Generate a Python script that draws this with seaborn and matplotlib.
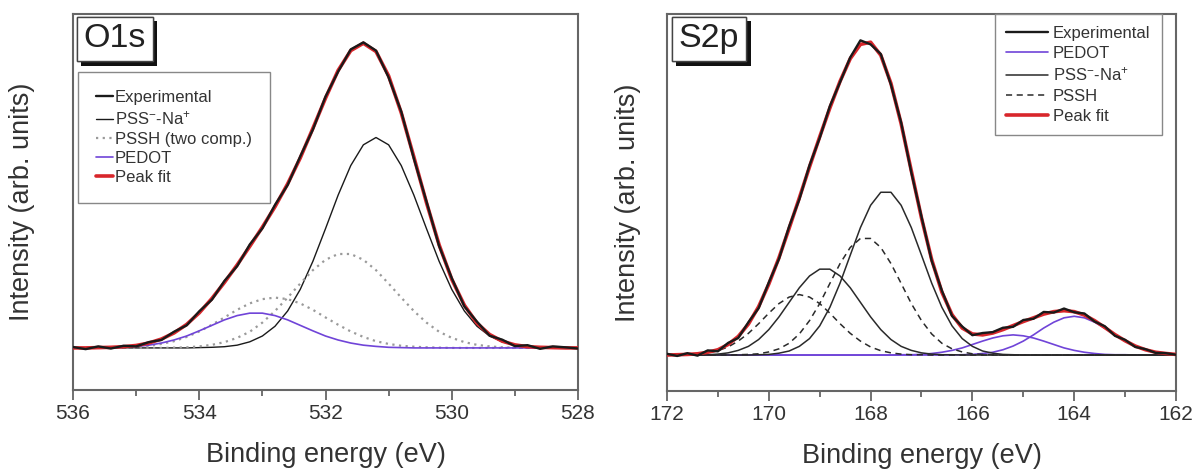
import matplotlib.pyplot as plt
import matplotlib.patheffects as pe
import seaborn as sns

# --- O1s region (binding energy in eV, intensity in arb. units, baseline = 0) ---
o1s_be = [536.0, 535.8, 535.6, 535.4, 535.2, 535.0, 534.8, 534.6, 534.4, 534.2,
          534.0, 533.8, 533.6, 533.4, 533.2, 533.0, 532.8, 532.6, 532.4, 532.2,
          532.0, 531.8, 531.6, 531.4, 531.2, 531.0, 530.8, 530.6, 530.4, 530.2,
          530.0, 529.8, 529.6, 529.4, 529.2, 529.0, 528.8, 528.6, 528.4, 528.2,
          528.0]
o1s_exp = [0.3, -0.4, 0.5, -0.2, 0.7, 0.5, 1.9, 2.6, 5.3, 7.4,
           12.0, 15.8, 22.0, 26.8, 33.9, 39.2, 46.9, 53.4, 62.8, 71.6,
           82.4, 90.6, 97.9, 100.2, 97.5, 88.7, 77.5, 62.1, 48.0, 33.4,
           22.9, 13.6, 8.6, 4.0, 2.7, 0.6, 0.9, -0.3, 0.5, 0.2,
           -0.2]
o1s_pss = [0, 0, 0, 0, 0, 0, 0, 0, 0, 0,
           0.1, 0.2, 0.4, 0.9, 2.0, 3.9, 7.1, 12.1, 19.2, 28.4,
           39.1, 50.1, 59.8, 66.6, 69.0, 66.6, 59.8, 50.1, 39.1, 28.4,
           19.2, 12.1, 7.1, 3.9, 2.0, 0.9, 0.4, 0.2, 0.1, 0,
           0]
o1s_pssh_1 = [0, 0, 0, 0, 0, 0, 0, 0, 0.1, 0.2,
              0.5, 1.0, 1.9, 3.3, 5.3, 8.3, 12.1, 16.5, 21.1, 25.5,
              28.9, 30.8, 30.8, 28.9, 25.5, 21.1, 16.5, 12.1, 8.3, 5.3,
              3.3, 1.9, 1.0, 0.5, 0.2, 0.1, 0, 0, 0, 0,
              0]
o1s_pssh_2 = [0, 0, 0.0, 0.1, 0.2, 0.4, 0.7, 1.3, 2.2, 3.6,
              5.4, 7.6, 10.0, 12.5, 14.6, 16.0, 16.5, 16.0, 14.6, 12.5,
              10.0, 7.6, 5.4, 3.6, 2.2, 1.3, 0.7, 0.4, 0.2, 0.1,
              0.0, 0, 0, 0, 0, 0, 0, 0, 0, 0,
              0]
o1s_pedot = [0, 0, 0.0, 0.1, 0.2, 0.5, 0.9, 1.6, 2.6, 3.9,
             5.6, 7.4, 9.2, 10.6, 11.4, 11.4, 10.6, 9.2, 7.4, 5.6,
             3.9, 2.6, 1.6, 0.9, 0.5, 0.2, 0.1, 0.0, 0, 0,
             0, 0, 0, 0, 0, 0, 0, 0, 0, 0,
             0]
o1s_fit = [0, 0, 0.1, 0.2, 0.4, 0.8, 1.6, 2.9, 4.9, 7.7,
           11.5, 16.2, 21.5, 27.2, 33.3, 39.6, 46.3, 53.8, 62.3, 72.0,
           81.9, 91.0, 97.5, 99.9, 97.2, 89.2, 77.1, 62.6, 47.6, 33.8,
           22.5, 14.0, 8.1, 4.4, 2.2, 1.0, 0.4, 0.2, 0.1, 0,
           0]

# --- S2p region ---
s2p_be = [172.0, 171.8, 171.6, 171.4, 171.2, 171.0, 170.8, 170.6, 170.4, 170.2,
          170.0, 169.8, 169.6, 169.4, 169.2, 169.0, 168.8, 168.6, 168.4, 168.2,
          168.0, 167.8, 167.6, 167.4, 167.2, 167.0, 166.8, 166.6, 166.4, 166.2,
          166.0, 165.8, 165.6, 165.4, 165.2, 165.0, 164.8, 164.6, 164.4, 164.2,
          164.0, 163.8, 163.6, 163.4, 163.2, 163.0, 162.8, 162.6, 162.4, 162.2,
          162.0]
s2p_exp = [0.4, -0.3, 0.6, -0.2, 1.5, 1.2, 3.9, 5.5, 10.6, 15.1,
           23.4, 31.0, 41.5, 50.2, 61.2, 70.0, 80.3, 88.0, 96.0, 101.5,
           100.2, 97.1, 87.2, 75.0, 58.9, 44.6, 30.4, 20.8, 12.6, 9.2,
           6.4, 7.1, 7.4, 8.8, 9.1, 11.3, 11.7, 13.9, 13.7, 15.0,
           13.8, 13.4, 10.8, 9.3, 6.2, 4.9, 2.6, 1.9, 0.7, 0.6,
           0.1]
s2p_pss_1 = [0, 0, 0, 0, 0, 0, 0, 0, 0.0, 0.1,
             0.2, 0.6, 1.3, 2.8, 5.3, 9.4, 15.4, 23.2, 32.2, 41.1,
             48.3, 52.5, 52.5, 48.3, 41.1, 32.2, 23.2, 15.4, 9.4, 5.3,
             2.8, 1.3, 0.6, 0.2, 0.1, 0.0, 0, 0, 0, 0,
             0, 0, 0, 0, 0, 0, 0, 0, 0, 0,
             0]
s2p_pss_2 = [0, 0, 0.0, 0.1, 0.1, 0.3, 0.7, 1.5, 2.8, 5.0,
             8.2, 12.3, 17.0, 21.7, 25.5, 27.7, 27.7, 25.5, 21.7, 17.0,
             12.3, 8.2, 5.0, 2.8, 1.5, 0.7, 0.3, 0.1, 0.1, 0.0,
             0, 0, 0, 0, 0, 0, 0, 0, 0, 0,
             0, 0, 0, 0, 0, 0, 0, 0, 0, 0,
             0]
s2p_pssh_1 = [0, 0, 0, 0, 0, 0, 0.0, 0.1, 0.2, 0.4,
              1.0, 2.0, 3.8, 6.8, 11.1, 16.6, 23.1, 29.5, 34.7, 37.6,
              37.6, 34.7, 29.5, 23.1, 16.6, 11.1, 6.8, 3.8, 2.0, 1.0,
              0.4, 0.2, 0.1, 0.0, 0, 0, 0, 0, 0, 0,
              0, 0, 0, 0, 0, 0, 0, 0, 0, 0,
              0]
s2p_pssh_2 = [0.0, 0.1, 0.1, 0.3, 0.7, 1.4, 2.6, 4.5, 7.0, 10.1,
              13.5, 16.6, 18.7, 19.5, 18.7, 16.6, 13.5, 10.1, 7.0, 4.5,
              2.6, 1.4, 0.7, 0.3, 0.1, 0.1, 0.0, 0, 0, 0,
              0, 0, 0, 0, 0, 0, 0, 0, 0, 0,
              0, 0, 0, 0, 0, 0, 0, 0, 0, 0,
              0]
s2p_pedot_1 = [0, 0, 0, 0, 0, 0, 0, 0, 0, 0,
               0, 0, 0, 0, 0, 0, 0, 0, 0, 0,
               0, 0, 0, 0, 0, 0, 0, 0.0, 0.0, 0.1,
               0.2, 0.5, 0.9, 1.7, 2.9, 4.5, 6.5, 8.7, 10.6, 12.0,
               12.5, 12.0, 10.6, 8.7, 6.5, 4.5, 2.9, 1.7, 0.9, 0.5,
               0.2]
s2p_pedot_2 = [0, 0, 0, 0, 0, 0, 0, 0, 0, 0,
               0, 0, 0, 0, 0, 0, 0, 0, 0, 0,
               0, 0.0, 0.0, 0.1, 0.1, 0.2, 0.5, 0.9, 1.5, 2.3,
               3.4, 4.5, 5.5, 6.2, 6.5, 6.2, 5.5, 4.5, 3.4, 2.3,
               1.5, 0.9, 0.5, 0.2, 0.1, 0.1, 0.0, 0.0, 0, 0,
               0]
s2p_fit = [0.0, 0.1, 0.2, 0.4, 0.9, 1.7, 3.4, 6.0, 10.0, 15.6,
           22.9, 31.4, 40.9, 50.7, 60.7, 70.4, 79.7, 88.3, 95.6, 100.2,
           100.9, 96.7, 87.6, 74.6, 59.4, 44.2, 30.8, 20.3, 13.0, 8.7,
           6.8, 6.5, 7.1, 8.2, 9.5, 10.8, 12.0, 13.2, 14.0, 14.3,
           14.0, 12.9, 11.1, 8.9, 6.6, 4.6, 2.9, 1.7, 0.9, 0.5,
           0.2]

pss_label = r'PSS$^{-}$-Na$^{+}$'

# --- Style ---
sns.set_style('ticks')
plt.rcParams['font.family'] = ['Liberation Sans', 'DejaVu Sans']
plt.rcParams['mathtext.fontset'] = 'custom'
plt.rcParams['mathtext.rm'] = 'Liberation Sans'
plt.rcParams['mathtext.it'] = 'Liberation Sans:italic'
plt.rcParams['mathtext.bf'] = 'Liberation Sans:bold'

TXT = '#333333'
SPINE = '#666666'
BLACK = '#1a1a1a'
RED = '#d8262b'
PURPLE = '#7044d8'

fig = plt.figure(figsize=(11.98, 4.74), dpi=100)
ax1 = fig.add_axes([73 / 1198, 1 - 390 / 474, 505 / 1198, 376 / 474])
ax2 = fig.add_axes([667 / 1198, 1 - 391 / 474, 509 / 1198, 377 / 474])


def line(ax, x, y, color, lw, ls='-', label=None, z=2):
    sns.lineplot(x=x, y=y, ax=ax, color=color, linewidth=lw, linestyle=ls,
                 sort=False, estimator=None, label=label, zorder=z)


# --- O1s panel ---
line(ax1, o1s_be, o1s_pss, BLACK, 1.0, label=pss_label)
line(ax1, o1s_be, o1s_pssh_1, '#9a9a9a', 1.6, (0, (1, 2)), label='PSSH (two comp.)')
line(ax1, o1s_be, o1s_pssh_2, '#9a9a9a', 1.6, (0, (1, 2)))
line(ax1, o1s_be, o1s_pedot, PURPLE, 1.2, label='PEDOT')
line(ax1, o1s_be, o1s_fit, RED, 2.6, label='Peak fit', z=3)
line(ax1, o1s_be, o1s_exp, BLACK, 1.7, label='Experimental', z=4)

# --- S2p panel ---
line(ax2, s2p_be, s2p_pedot_1, PURPLE, 1.2, label='PEDOT')
line(ax2, s2p_be, s2p_pedot_2, PURPLE, 1.2)
line(ax2, s2p_be, s2p_pss_1, '#2a2a2a', 1.1, label=pss_label)
line(ax2, s2p_be, s2p_pss_2, '#2a2a2a', 1.1)
line(ax2, s2p_be, s2p_pssh_1, '#2a2a2a', 1.1, (0, (4, 3)), label='PSSH')
line(ax2, s2p_be, s2p_pssh_2, '#2a2a2a', 1.1, (0, (4, 3)))
line(ax2, s2p_be, s2p_fit, RED, 2.6, label='Peak fit', z=3)
line(ax2, s2p_be, s2p_exp, BLACK, 1.7, label='Experimental', z=4)


def finish(ax, xlim, major, minor, ylim, ylabelpad, title, order, leg_kw):
    ax.set_xlim(*xlim)
    ax.set_ylim(*ylim)
    ax.set_yticks([])
    ax.set_xticks(major)
    ax.set_xticks(minor, minor=True)
    ax.tick_params(axis='x', which='major', direction='out', length=7, width=1.3,
                   color=SPINE, labelsize=15, labelcolor=TXT, pad=3)
    ax.tick_params(axis='x', which='minor', direction='out', length=4, width=1.3,
                   color=SPINE)
    for sp in ax.spines.values():
        sp.set_visible(True)
        sp.set_color(SPINE)
        sp.set_linewidth(1.5)
    ax.set_xlabel('Binding energy (eV)', fontsize=19.5, color=TXT, labelpad=14)
    ax.set_ylabel('Intensity (arb. units)', fontsize=19.5, color=TXT, labelpad=ylabelpad)

    handles, labels = ax.get_legend_handles_labels()
    lookup = dict(zip(labels, handles))
    leg = ax.legend([lookup[k] for k in order], order, fontsize=12, frameon=True,
                    fancybox=False, framealpha=1, edgecolor='#888888',
                    borderaxespad=0, labelcolor=TXT, **leg_kw)
    leg.get_frame().set_linewidth(1.0)
    leg.set_zorder(8)

    t = ax.text(title[1], 0.975, title[0], transform=ax.transAxes, ha='left', va='top',
                fontsize=24.5, color='#222222', zorder=10,
                bbox=dict(boxstyle='square,pad=0.2', fc='white', ec='#444444', lw=1.0))
    t.get_bbox_patch().set_path_effects(
        [pe.withSimplePatchShadow(offset=(3.5, -3.5), shadow_rgbFace='#111111', alpha=1.0),
         pe.Normal()])


finish(ax1, (536, 528), [536, 534, 532, 530, 528], [535, 533, 531, 529],
       (-13.8, 109.5), 27, ('O1s', 0.0206),
       ['Experimental', pss_label, 'PSSH (two comp.)', 'PEDOT', 'Peak fit'],
       dict(loc='upper left', bbox_to_anchor=(0.0099, 0.846), handlelength=1.0,
            handletextpad=0.1, labelspacing=0.25, borderpad=1.1))
finish(ax2, (172, 162), [172, 170, 168, 166, 164, 162], [171, 169, 167, 165, 163],
       (-11.6, 110), 19, ('S2p', 0.0224),
       ['Experimental', 'PEDOT', pss_label, 'PSSH', 'Peak fit'],
       dict(loc='upper right', bbox_to_anchor=(0.9725, 1.0), handlelength=2.5,
            handletextpad=0.3, labelspacing=0.3, borderpad=0.7))

fig.savefig('out.png', dpi=100)
